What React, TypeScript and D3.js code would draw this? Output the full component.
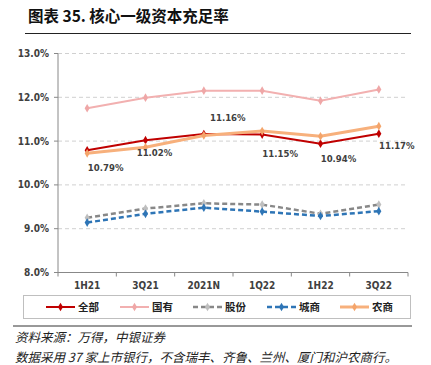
import React from "react";
import * as d3 from "d3";

const categories = ["1H21", "3Q21", "2021N", "1Q22", "1H22", "3Q22"];
const seriesNames = ["全部", "国有", "股份", "城商", "农商"];
const allBanks = [10.79, 11.02, 11.16, 11.15, 10.94, 11.17];
const stateOwned = [11.75, 11.99, 12.15, 12.15, 11.92, 12.18];
const jointStock = [9.25, 9.46, 9.58, 9.55, 9.34, 9.55];
const cityComm = [9.14, 9.34, 9.48, 9.39, 9.29, 9.4];
const rural = [10.72, 10.86, 11.13, 11.23, 11.11, 11.34];
const yTicks = [8, 9, 10, 11, 12, 13];
const labelText = ["10.79%", "11.02%", "11.16%", "11.15%", "10.94%", "11.17%"];

const W = 431;
const H = 365;
const left = 58;
const right = 408;
const top = 53.5;
const bottom = 272.5;

const styles = [
  { color: "#C00000", width: 2, dash: "", marker: "#C00000" },
  { color: "#F2B0B0", width: 2, dash: "", marker: "#EFA7A7" },
  { color: "#888888", width: 2.5, dash: "5,3", marker: "#BFBFBF" },
  { color: "#2E75B6", width: 2.5, dash: "5,3", marker: "#2E75B6" },
  { color: "#F7B07C", width: 3, dash: "", marker: "#F4A46A" },
];

const labelOffsets: [number, number][] = [
  [18.5, 21],
  [9, 15.4],
  [24, -13],
  [18, 22.8],
  [18, 18.2],
  [18, 15.2],
];

export default function App() {
  const x = d3.scaleBand<string>().domain(categories).range([left, right]);
  const y = d3.scaleLinear().domain([8, 13]).range([bottom, top]);
  const data = [allBanks, stateOwned, jointStock, cityComm, rural];
  const line = d3
    .line<number>()
    .x((_, i) => (x(categories[i]) as number) + x.bandwidth() / 2)
    .y((d) => y(d));
  const diamond = d3.symbol().type(d3.symbolDiamond).size(22);
  const tickFont = "'Liberation Sans Narrow', 'DejaVu Sans Condensed', 'Roboto', sans-serif";
  const boundaries = d3.range(categories.length + 1).map((i) => left + i * x.bandwidth());
  const legendX = [46, 120, 193, 267, 340];

  return (
    <svg
      width={W}
      height={H}
      style={{ position: "absolute", left: 0, top: 0, background: "#fff" }}
      fontFamily="'Noto Sans CJK SC', sans-serif"
    >
      <text x={28} y={22} fontSize={15.5} fontWeight="bold" fill="#111">
        图表 35. 核心一级资本充足率
      </text>
      <line x1={25} x2={411} y1={33.5} y2={33.5} stroke="#222" strokeWidth={1.2} />

      {yTicks.map((t) => (
        <g key={t}>
          {t > 8 && (
            <line x1={left} x2={right} y1={y(t)} y2={y(t)} stroke="#D0D0D0" strokeDasharray="4,3" strokeWidth={1} />
          )}
          <line x1={left - 4} x2={left} y1={y(t)} y2={y(t)} stroke="#888" />
          <text x={49} y={y(t) + 3.5} fontSize={10} fontWeight="bold" textAnchor="end" fill="#404040" fontFamily={tickFont}>
            {t.toFixed(1)}%
          </text>
        </g>
      ))}
      <line x1={left} x2={left} y1={top} y2={bottom} stroke="#888" />
      <line x1={left} x2={right} y1={bottom} y2={bottom} stroke="#888" />
      {boundaries.map((b, i) => (
        <line key={i} x1={b} x2={b} y1={bottom} y2={bottom + 4} stroke="#888" />
      ))}
      {categories.map((c) => (
        <text
          key={c}
          x={(x(c) as number) + x.bandwidth() / 2}
          y={288.5}
          fontSize={10}
          fontWeight="bold"
          textAnchor="middle"
          fill="#404040"
          fontFamily={tickFont}
        >
          {c}
        </text>
      ))}

      {data.map((d, si) => (
        <g key={si}>
          <path d={line(d) || ""} fill="none" stroke={styles[si].color} strokeWidth={styles[si].width} strokeDasharray={styles[si].dash} />
          {d.map((v, i) => (
            <path
              key={i}
              d={diamond() || ""}
              transform={`translate(${(x(categories[i]) as number) + x.bandwidth() / 2},${y(v)})`}
              fill={styles[si].marker}
            />
          ))}
        </g>
      ))}

      {allBanks.map((v, i) => (
        <text
          key={i}
          x={(x(categories[i]) as number) + x.bandwidth() / 2 + labelOffsets[i][0]}
          y={y(v) + labelOffsets[i][1]}
          fontSize={9.5}
          fontWeight="bold"
          textAnchor="middle"
          fill="#404040"
          fontFamily={tickFont}
        >
          {labelText[i]}
        </text>
      ))}

      <rect x={23.5} y={295.5} width={387} height={23} fill="none" stroke="#BFBFBF" />
      {seriesNames.map((n, i) => (
        <g key={n}>
          <line x1={legendX[i]} x2={legendX[i] + 29} y1={307} y2={307} stroke={styles[i].color} strokeWidth={styles[i].width} strokeDasharray={styles[i].dash} />
          <path d={diamond() || ""} transform={`translate(${legendX[i] + 14.5},307)`} fill={styles[i].marker} />
          <text x={legendX[i] + 32} y={311} fontSize={10.5} fontWeight="bold" fill="#222">
            {n}
          </text>
        </g>
      ))}

      <line x1={13} x2={412} y1={326} y2={326} stroke="#333" strokeWidth={1} />
      <text x={15} y={342} fontSize={12.5} fontStyle="italic" fill="#222">
        资料来源：万得，中银证券
      </text>
      <text x={15} y={362} fontSize={12.5} fontStyle="italic" fill="#222">
        数据采用 37 家上市银行，不含瑞丰、齐鲁、兰州、厦门和沪农商行。
      </text>
    </svg>
  );
}
